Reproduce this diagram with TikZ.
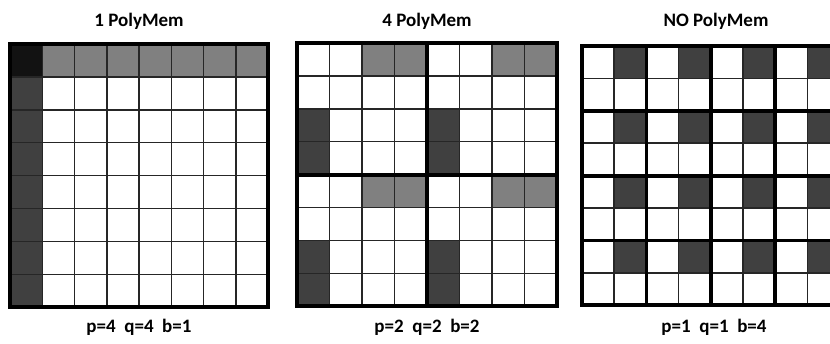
\documentclass[tikz,border=0pt]{standalone}
\usepackage{fontspec}
\setmainfont{Carlito}
\begin{document}
\begin{tikzpicture}[x=1pt,y=-1pt,
  thin grid/.style={draw=black!85,line width=1.5pt},
  block line/.style={draw=black,line width=3.8pt},
  dark cell/.style={fill=black!75},
  mid cell/.style={fill=black!50},
  corner cell/.style={fill=black!93},
  caption/.style={font=\bfseries\fontsize{19}{21}\selectfont}]
  \useasboundingbox (0,0) rectangle (830,343);
  \clip (0,0) rectangle (830,343);

  % 1 PolyMem
  \begin{scope}[shift={(10,44)},x=32.25pt,y=-32.9pt]
    \fill[corner cell] (0,0) rectangle (1,1);
    \foreach \c in {1,...,7} \fill[mid cell] (\c,0) rectangle ++(1,1);
    \foreach \r in {1,...,7} \fill[dark cell] (0,\r) rectangle ++(1,1);
    \foreach \i in {1,...,7} {
      \draw[thin grid] (\i,0) -- (\i,8);
      \draw[thin grid] (0,\i) -- (8,\i);
    }
    \draw[block line] (0,0) rectangle (8,8);
  \end{scope}

  % 4 PolyMem
  \begin{scope}[shift={(297,43)},x=32.5pt,y=-32.9pt]
    \foreach \bx in {0,4} \foreach \by in {0,4} {
      \fill[mid cell] (\bx+2,\by) rectangle ++(2,1);
      \fill[dark cell] (\bx,\by+2) rectangle ++(1,2);
    }
    \foreach \i in {1,...,7} {
      \draw[thin grid] (\i,0) -- (\i,8);
      \draw[thin grid] (0,\i) -- (8,\i);
    }
    \draw[block line] (4,0) -- (4,8) (0,4) -- (8,4);
    \draw[block line] (0,0) rectangle (8,8);
  \end{scope}

  % NO PolyMem
  \begin{scope}[shift={(582,46)},x=32.2pt,y=-32.4pt]
    \foreach \bx in {0,2,4,6} \foreach \by in {0,2,4,6}
      \fill[dark cell] (\bx+1,\by) rectangle ++(1,1);
    \foreach \i in {1,3,5,7} {
      \draw[thin grid] (\i,0) -- (\i,8);
      \draw[thin grid] (0,\i) -- (8,\i);
    }
    \foreach \i in {2,4,6} {
      \draw[block line] (\i,0) -- (\i,8);
      \draw[block line] (0,\i) -- (8,\i);
    }
    \draw[block line] (0,0) rectangle (8,8);
  \end{scope}

  \node[caption] (title1) at (139,21) {1 PolyMem};
  \node[caption] (title4) at (427,21) {4 PolyMem};
  \node[caption] (title0) at (716,21) {NO PolyMem};

  \node[caption] (param1) at (139,327) {p=4\ \ q=4\ \ b=1};
  \node[caption] (param4) at (427,327) {p=2\ \ q=2\ \ b=2};
  \node[caption] (param0) at (714,327) {p=1\ \ q=1\ \ b=4};
\end{tikzpicture}
\end{document}
